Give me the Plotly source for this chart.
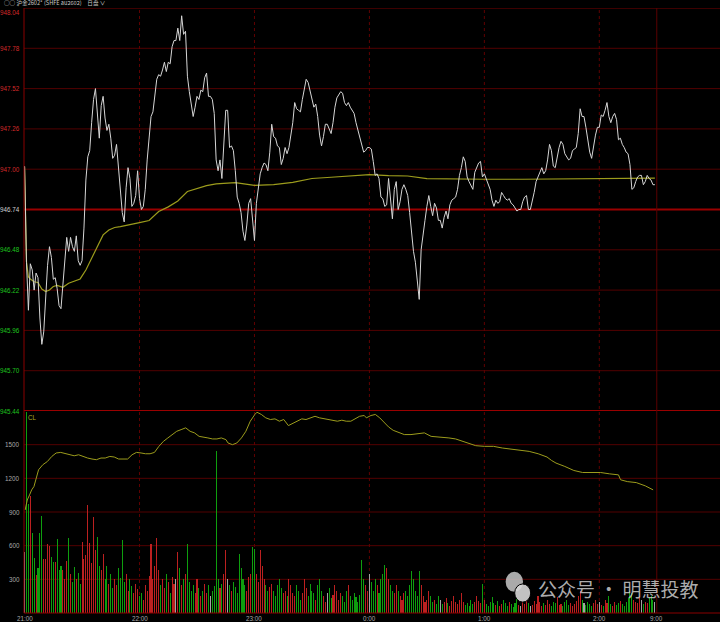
import plotly.graph_objects as go

# ---------------- data ----------------
minutes = list(range(330))  # minutes since 21:00 (night session 21:00-2:30)

price = [
947.02, 946.40, 946.09, 946.39, 946.35, 946.22, 946.33, 946.30, 946.04, 945.87,
945.95, 946.19, 946.38, 946.50, 946.43, 946.29, 946.30, 946.23, 946.12, 946.10,
946.26, 946.37, 946.56, 946.47, 946.56, 946.50, 946.47, 946.57, 946.41, 946.38,
946.41, 946.62, 946.93, 947.08, 947.12, 947.30, 947.45, 947.52, 947.37, 947.20,
947.41, 947.47, 947.33, 947.25, 947.29, 947.20, 947.07, 947.09, 947.16, 947.01,
946.87, 946.72, 946.66, 946.88, 947.01, 946.94, 946.76, 946.78, 946.83, 946.99,
946.81, 946.74, 946.76, 946.87, 947.06, 947.23, 947.34, 947.37, 947.47, 947.58,
947.61, 947.60, 947.64, 947.69, 947.63, 947.69, 947.68, 947.79, 947.83, 947.83,
947.91, 947.83, 947.99, 947.87, 947.89, 947.60, 947.50, 947.41, 947.34, 947.40,
947.47, 947.45, 947.51, 947.50, 947.59, 947.62, 947.47, 947.47, 947.45, 947.36,
947.06, 946.99, 947.06, 946.94, 947.15, 947.38, 947.38, 947.14, 947.15, 947.12,
946.99, 946.82, 946.78, 946.72, 946.60, 946.54, 946.64, 946.78, 946.81, 946.67,
946.54, 946.78, 946.87, 946.97, 947.01, 947.04, 947.03, 946.99, 947.11, 947.29,
947.21, 947.20, 947.15, 947.14, 947.03, 947.07, 947.14, 947.10, 947.14, 947.21,
947.30, 947.43, 947.39, 947.38, 947.37, 947.45, 947.53, 947.58, 947.56, 947.51,
947.46, 947.40, 947.42, 947.34, 947.22, 947.15, 947.21, 947.29, 947.29, 947.26,
947.23, 947.30, 947.40, 947.46, 947.48, 947.50, 947.49, 947.43, 947.41, 947.43,
947.40, 947.38, 947.36, 947.30, 947.25, 947.19, 947.15, 947.11, 947.12, 947.14,
947.14, 947.13, 947.05, 946.96, 946.97, 946.94, 946.82, 946.81, 946.76, 946.77,
946.94, 946.78, 946.68, 946.87, 946.92, 946.74, 946.79, 946.87, 946.90, 946.87,
946.83, 946.72, 946.58, 946.47, 946.40, 946.29, 946.16, 946.48, 946.59, 946.67,
946.76, 946.83, 946.76, 946.70, 946.78, 946.75, 946.67, 946.67, 946.62, 946.69,
946.73, 946.68, 946.77, 946.80, 946.81, 946.82, 946.87, 946.96, 947.01, 947.08,
947.05, 946.95, 946.92, 946.89, 946.87, 946.98, 947.01, 947.04, 947.05, 946.95,
946.97, 946.94, 946.91, 946.87, 946.80, 946.76, 946.80, 946.78, 946.79, 946.85,
946.83, 946.81, 946.80, 946.81, 946.78, 946.77, 946.75, 946.73, 946.74, 946.74,
946.79, 946.82, 946.83, 946.74, 946.74, 946.79, 946.85, 946.92, 946.95, 946.99,
947.01, 946.97, 946.99, 947.06, 947.16, 947.12, 947.02, 947.01, 947.08, 947.14,
947.18, 947.16, 947.10, 947.08, 947.06, 947.07, 947.12, 947.13, 947.14, 947.23,
947.39, 947.34, 947.34, 947.27, 947.19, 947.11, 947.07, 947.16, 947.22, 947.27,
947.27, 947.35, 947.34, 947.38, 947.43, 947.34, 947.30, 947.34, 947.36, 947.32,
947.19, 947.20, 947.16, 947.14, 947.11, 947.10, 947.03, 946.87, 946.88, 946.92,
946.95, 946.96, 946.96, 946.90, 946.92, 946.96, 946.94, 946.93, 946.90, 946.90,
]

avg_min = [0, 1, 2, 3, 5, 7, 9, 11, 13, 15, 17, 20, 23, 26, 29, 32, 35, 38, 41, 44,
           47, 50, 55, 60, 65, 70, 75, 80, 85, 90, 95, 100, 110, 120, 130, 140, 150,
           160, 170, 180, 190, 200, 210, 220, 240, 260, 280, 300, 329]
avg_price = [947.016, 946.401, 946.305, 946.292, 946.274, 946.269, 946.227, 946.211,
             946.221, 946.243, 946.250, 946.238, 946.264, 946.276, 946.292, 946.350,
             946.427, 946.508, 946.576, 946.608, 946.624, 946.630, 946.645, 946.655,
             946.669, 946.727, 946.757, 946.795, 946.856, 946.877, 946.894, 946.905,
             946.913, 946.896, 946.900, 946.915, 946.940, 946.948, 946.955, 946.965,
             946.958, 946.956, 946.939, 946.937, 946.935, 946.935, 946.938, 946.941,
             946.943]

volume = [
545, 1787, 972, 1046, 712, 488, 336, 398, 715, 864, 479, 479, 613, 595, 500, 455, 455, 655, 385,
420, 380, 300, 460, 664, 350, 280, 410, 300, 353, 260, 634, 480,
520, 963, 620, 450, 858, 560, 679, 420, 380,
530, 300, 420, 260, 350, 220, 300, 250, 400, 310, 649, 280, 350, 200, 300, 240, 180, 260, 210, 150,
180, 120, 250, 200, 330, 613, 300, 420, 664, 380, 250, 300, 220, 350, 280, 180, 320, 260, 300, 545,
400, 250, 300, 350, 613, 280, 200, 250, 180, 300, 220, 150, 200, 260, 180, 250, 150, 200, 240,
1440,
300, 220, 260, 350, 560, 300, 250, 200, 280, 230, 180, 524, 400, 300, 250, 200, 320, 350, 589, 574,
350, 280, 560, 420, 300, 250, 200, 230, 260, 200, 150, 250, 300, 220, 180, 200, 150, 300, 250, 180,
150, 250, 200, 120, 180, 300, 220, 150, 260, 200, 180, 120, 250, 300, 200, 150, 100, 180, 220, 130,
160, 250, 200, 120, 180, 150, 100, 200, 250, 150, 120, 180, 140, 100, 160,
476, 300, 250, 200, 350, 280, 200, 300, 250, 180, 300, 350, 425, 400, 300, 250, 200, 180, 250, 200,
150, 120, 180, 200, 150, 250, 374, 300, 200, 150, 374, 250, 150, 100, 120, 200, 150, 100, 120, 80,
150, 120, 80, 100, 130, 90, 60, 110, 150, 100, 80, 120, 177, 100, 70, 90, 60, 120, 80, 100, 150, 110,
90, 261, 120, 80, 60, 100, 140, 90, 70, 110, 60, 80,
120, 90, 60, 100, 80, 50, 90, 130, 70, 60, 100, 80, 120, 90, 60, 70, 110, 80, 150, 100, 60, 90, 70,
120, 80, 60, 100, 90, 140, 70,
80, 60, 100, 120, 70, 90, 60, 80, 110, 150, 200, 120, 90, 70, 100, 80, 60, 90, 120, 80,
100, 70, 60, 120, 90, 150, 80, 60, 100, 70, 90, 110, 80, 60, 100, 130, 200, 180, 120, 100, 90, 150,
120, 80, 100, 90, 130, 150, 120, 100,
]

cl_min = [0.3, 1.4, 2.6, 3.7, 4.9, 7.3, 9.5, 11.9, 14.2, 16.5, 18.9, 21.2, 23.5, 25.9, 28.2,
          30.5, 32.9, 35.2, 37.5, 39.9, 42.1, 44.5, 46.8, 49.1, 51.5, 53.8, 56.1, 58.4, 60.8,
          63.1, 65.5, 67.8, 70.1, 72.5, 74.8, 77.1, 79.4, 81.7, 84.1, 86.4, 88.7, 91.1, 93.4,
          95.7, 98.1, 100.4, 102.7, 105.1, 106.2, 108.5, 110.8, 113.2, 115.5, 117.8, 120.2,
          121.3, 123.6, 125.9, 128.3, 130.7, 133.0, 135.3, 137.7, 140.0, 142.3, 144.7, 146.9,
          149.3, 151.6, 154.0, 156.3, 158.6, 160.9, 163.3, 165.6, 167.9, 170.3, 172.6, 174.9,
          177.3, 178.4, 180.8, 183.1, 185.4, 187.7, 190.0, 192.4, 194.7, 198.2, 201.7, 205.2,
          208.7, 212.2, 216.8, 221.5, 225.0, 228.5, 232.0, 235.5, 240.1, 244.8, 249.4, 254.0,
          258.7, 263.4, 268.1, 272.7, 275.1, 277.4, 282.0, 286.7, 291.3, 296.0, 300.7, 305.3,
          310.0, 311.1, 314.6, 319.3, 324.0, 328.1]
cl_val = [918, 1007, 1052, 1097, 1127, 1276, 1321, 1350, 1395, 1426, 1431, 1419, 1410, 1401,
          1410, 1395, 1381, 1372, 1366, 1381, 1381, 1395, 1390, 1372, 1375, 1372, 1410, 1431,
          1426, 1419, 1419, 1431, 1485, 1530, 1560, 1590, 1619, 1634, 1650, 1619, 1605, 1574,
          1569, 1560, 1551, 1551, 1560, 1545, 1515, 1500, 1515, 1560, 1619, 1709, 1769, 1789,
          1769, 1739, 1724, 1730, 1709, 1724, 1670, 1688, 1709, 1730, 1724, 1739, 1753, 1739,
          1733, 1724, 1718, 1709, 1718, 1709, 1709, 1730, 1753, 1760, 1739, 1760, 1769, 1739,
          1694, 1658, 1628, 1610, 1590, 1590, 1596, 1605, 1574, 1569, 1560, 1551, 1530, 1506,
          1491, 1485, 1485, 1470, 1461, 1455, 1440, 1419, 1390, 1359, 1336, 1306, 1270, 1252,
          1252, 1252, 1240, 1231, 1187, 1171, 1162, 1133, 1097]

price_ticks = [948.04, 947.78, 947.52, 947.26, 947.00, 946.74, 946.48, 946.22, 945.96, 945.70, 945.44]
prev_settle = 946.74
vol_ticks = [300, 600, 900, 1200, 1500]
time_pos = [0, 60, 120, 180, 240, 300, 330]
time_labels = ["21:00", "22:00", "23:00", "0:00", "1:00", "2:00", "9:00"]

# ---------------- styling ----------------
BG = "#000000"
GRID = "#520000"
RED_LINE = "#9a0000"
PRICE_COL = "#d6d6d6"
AVG_COL = "#9c9c1c"
UP = "rgba(190,32,32,0.99)"
DOWN = "rgba(14,160,14,0.99)"
FLAT = "rgba(165,165,165,0.99)"
FONT = "Liberation Sans"

vol_colors = []
for i, v in enumerate(volume):
    if i == 0:
        vol_colors.append(FLAT)
    elif price[i] > price[i - 1]:
        vol_colors.append(UP)
    elif price[i] < price[i - 1]:
        vol_colors.append(DOWN)
    else:
        vol_colors.append(FLAT)

fig = go.Figure()
fig.add_trace(go.Bar(x=minutes, y=volume,
                     marker=dict(color=vol_colors, line=dict(width=0)),
                     width=0.55, xaxis="x", yaxis="y2", hoverinfo="skip"))
fig.add_trace(go.Scatter(x=cl_min, y=cl_val, mode="lines", line=dict(color=AVG_COL, width=1),
                         xaxis="x", yaxis="y2", hoverinfo="skip"))
fig.add_trace(go.Scatter(x=avg_min, y=avg_price, mode="lines", line=dict(color=AVG_COL, width=1.2),
                         xaxis="x", yaxis="y", hoverinfo="skip"))
fig.add_trace(go.Scatter(x=minutes, y=price, mode="lines", line=dict(color=PRICE_COL, width=1),
                         xaxis="x", yaxis="y", hoverinfo="skip"))

split = (613 - 411) / 605.0

shapes = []
for t in price_ticks:
    if t in (prev_settle, price_ticks[-1]):
        shapes.append(dict(type="line", xref="paper", x0=0, x1=1, yref="y", y0=t, y1=t,
                           line=dict(color=RED_LINE, width=2), layer="below"))
    else:
        shapes.append(dict(type="line", xref="paper", x0=0, x1=1, yref="y", y0=t, y1=t,
                           line=dict(color=GRID if t != price_ticks[0] else "#7a0000", width=1),
                           layer="below"))
for v in vol_ticks:
    shapes.append(dict(type="line", xref="paper", x0=0, x1=1, yref="y2", y0=v, y1=v,
                       line=dict(color=GRID, width=1), layer="below"))
for p in time_pos[1:-1]:
    shapes.append(dict(type="line", xref="x", x0=p, x1=p, yref="paper", y0=0, y1=1,
                       line=dict(color="#600000", width=1, dash="dot"), layer="below"))
shapes.append(dict(type="line", xref="x", x0=time_pos[-1], x1=time_pos[-1], yref="paper", y0=0, y1=1,
                   line=dict(color="#5a0000", width=1), layer="below"))
shapes.append(dict(type="line", xref="paper", x0=0, x1=0, yref="paper", y0=0, y1=1,
                   line=dict(color="#8a0000", width=1)))
shapes.append(dict(type="line", xref="paper", x0=0, x1=1, yref="paper", y0=0, y1=0,
                   line=dict(color="#8a0000", width=1)))
# WeChat-like logo bubbles in the watermark
shapes.append(dict(type="circle", xref="paper", yref="paper", x0=0.692, x1=0.717, y0=0.035, y1=0.068,
                   fillcolor="rgba(200,200,200,0.85)", line=dict(width=0)))
shapes.append(dict(type="circle", xref="paper", yref="paper", x0=0.705, x1=0.728, y0=0.018, y1=0.048,
                   fillcolor="rgba(215,215,215,0.9)", line=dict(color=BG, width=1)))

annotations = []
for t in price_ticks:
    if t > prev_settle:
        c = "#d42a2a"
    elif t < prev_settle:
        c = "#1fc41f"
    else:
        c = "#d0d0d0"
    annotations.append(dict(xref="paper", x=0, xanchor="right", xshift=-2, yref="y", y=t,
                            yanchor="middle", yshift=(-4 if t == price_ticks[0] else 0),
                            text="%.2f" % t, showarrow=False,
                            font=dict(family=FONT, size=6.3, color=c)))
for v in vol_ticks:
    annotations.append(dict(xref="paper", x=0, xanchor="right", xshift=-2, yref="y2", y=v,
                            yanchor="middle", text=str(v), showarrow=False,
                            font=dict(family=FONT, size=6.3, color="#a8a8a8")))
for p, lab in zip(time_pos, time_labels):
    annotations.append(dict(xref="x", x=p, xanchor="center", yref="paper", y=0, yanchor="top",
                            yshift=0, text=lab, showarrow=False,
                            font=dict(family=FONT, size=6.3, color="#a8a8a8")))
annotations.append(dict(xref="paper", x=-22 / 696, xanchor="left", yref="paper", y=1, yanchor="bottom",
                        yshift=-1, text="○○ 沪金2602* (SHFE au2602)　日盘 ∨", showarrow=False,
                        font=dict(family="Noto Sans CJK SC", size=5.6, color="#c8c8c8")))
annotations.append(dict(xref="paper", x=0.003, xanchor="left", yref="y2", y=1800, yanchor="top",
                        yshift=-1, text="CL", showarrow=False,
                        font=dict(family=FONT, size=6.3, color="#a8a820")))
annotations.append(dict(xref="paper", x=0.735, xanchor="left", yref="paper", y=0.04, yanchor="middle",
                        text="公众号 · 明慧投教", showarrow=False,
                        font=dict(family="Noto Sans CJK SC", size=19, color="rgba(205,205,205,0.85)")))

fig.update_layout(
    width=720, height=622,
    margin=dict(l=24, r=0, t=8, b=9),
    paper_bgcolor=BG, plot_bgcolor=BG,
    showlegend=False, bargap=0,
    shapes=shapes, annotations=annotations,
    xaxis=dict(range=[-0.3, 363], showgrid=False, zeroline=False, showticklabels=False,
               showline=False, fixedrange=True, anchor="y2"),
    yaxis=dict(domain=[split, 1], range=[945.44, 948.04], showgrid=False, zeroline=False,
               showticklabels=False, showline=False, fixedrange=True),
    yaxis2=dict(domain=[0, split], range=[0, 1800], showgrid=False, zeroline=False,
                showticklabels=False, showline=False, fixedrange=True),
)

fig.write_html("out.html", config={"displayModeBar": False},
               post_script="document.body.style.margin='0px';document.body.style.overflow='hidden';document.body.style.background='#000';")
